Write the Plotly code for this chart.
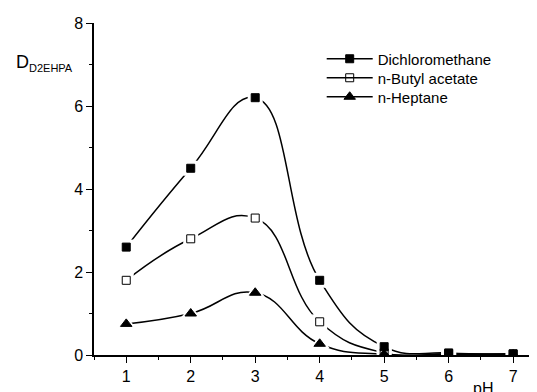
import plotly.graph_objects as go

ph = [1, 2, 3, 4, 5, 6, 7]
dichloromethane = [2.6, 4.5, 6.2, 1.8, 0.2, 0.05, 0.03]
butyl_acetate = [1.8, 2.8, 3.3, 0.8, 0.05, 0.03, 0.02]
heptane = [0.75, 1.0, 1.5, 0.27, 0.02, 0.01, 0.01]

series = [
    ("Dichloromethane", dichloromethane, "square", 8),
    ("n-Butyl acetate", butyl_acetate, "square-open", 8),
    ("n-Heptane", heptane, "triangle-up", 10),
]
legend_ids = ["legend", "legend2", "legend3"]

fig = go.Figure()
for name, ys, sym, sz in series:
    fig.add_trace(go.Scatter(x=ph, y=ys, mode="lines",
                             line=dict(color="black", width=1.5, shape="spline", smoothing=1.3),
                             showlegend=False, hoverinfo="skip"))
for name, ys, sym, sz in series:
    fig.add_trace(go.Scatter(x=ph, y=ys, mode="markers",
                             marker=dict(symbol="square" if "square" in sym else "triangle-up", size=sz + 7, color="white"),
                             showlegend=False, hoverinfo="skip"))
for name, ys, sym, sz in series:
    fig.add_trace(go.Scatter(x=ph, y=ys, mode="markers",
                             marker=dict(symbol=sym, size=sz, color="black", line=dict(color="black", width=1)),
                             showlegend=False))
for (name, ys, sym, sz), lid in zip(series, legend_ids):
    fig.add_trace(go.Scatter(x=[None], y=[None], mode="lines+markers", name=name, legend=lid,
                             line=dict(color="black", width=1.5),
                             marker=dict(symbol=sym, size=sz, color="black", line=dict(color="black", width=1))))

def leg(ypix):
    # ypix: screen pixel of row centre; plot area spans fig y 15..347
    return dict(x=0.514, y=(347 - (ypix - 8)) / 332.0, xanchor="left", yanchor="middle",
                bgcolor="rgba(0,0,0,0)", font=dict(size=15), itemwidth=46)

fig.update_layout(
    width=529, height=384,
    margin=dict(l=86, r=0, t=15, b=37),
    paper_bgcolor="white", plot_bgcolor="white",
    font=dict(family="Liberation Sans, Arial", size=16, color="black"),
    legend=leg(59), legend2=leg(78), legend3=leg(97),
    xaxis=dict(range=[0.5, 7.37], showgrid=False, zeroline=False, showline=True, linecolor="black", linewidth=1.5,
               ticks="outside", ticklen=6, tickwidth=1.2, tickcolor="black", tickvals=ph,
               minor=dict(ticks="outside", ticklen=3, tickwidth=1.2, tickcolor="black", dtick=0.5, tick0=0.5)),
    yaxis=dict(range=[0, 8], showgrid=False, zeroline=False, showline=True, linecolor="black", linewidth=1.5,
               ticks="outside", ticklen=6, tickwidth=1.2, tickcolor="black", tickvals=[0, 2, 4, 6, 8],
               minor=dict(ticks="outside", ticklen=3, tickwidth=1.2, tickcolor="black", dtick=1, tick0=0)),
    annotations=[
        dict(text="D<sub><span style='font-size:11px'>D2EHPA</span></sub>", xref="paper", yref="paper",
             x=-0.18, y=0.88, xanchor="left", yanchor="middle", showarrow=False, font=dict(size=18)),
        dict(text="pH", xref="paper", yref="paper", x=0.85, y=-0.07, xanchor="left", yanchor="top",
             showarrow=False, font=dict(size=16)),
    ],
)

fig.write_html("out.html")
